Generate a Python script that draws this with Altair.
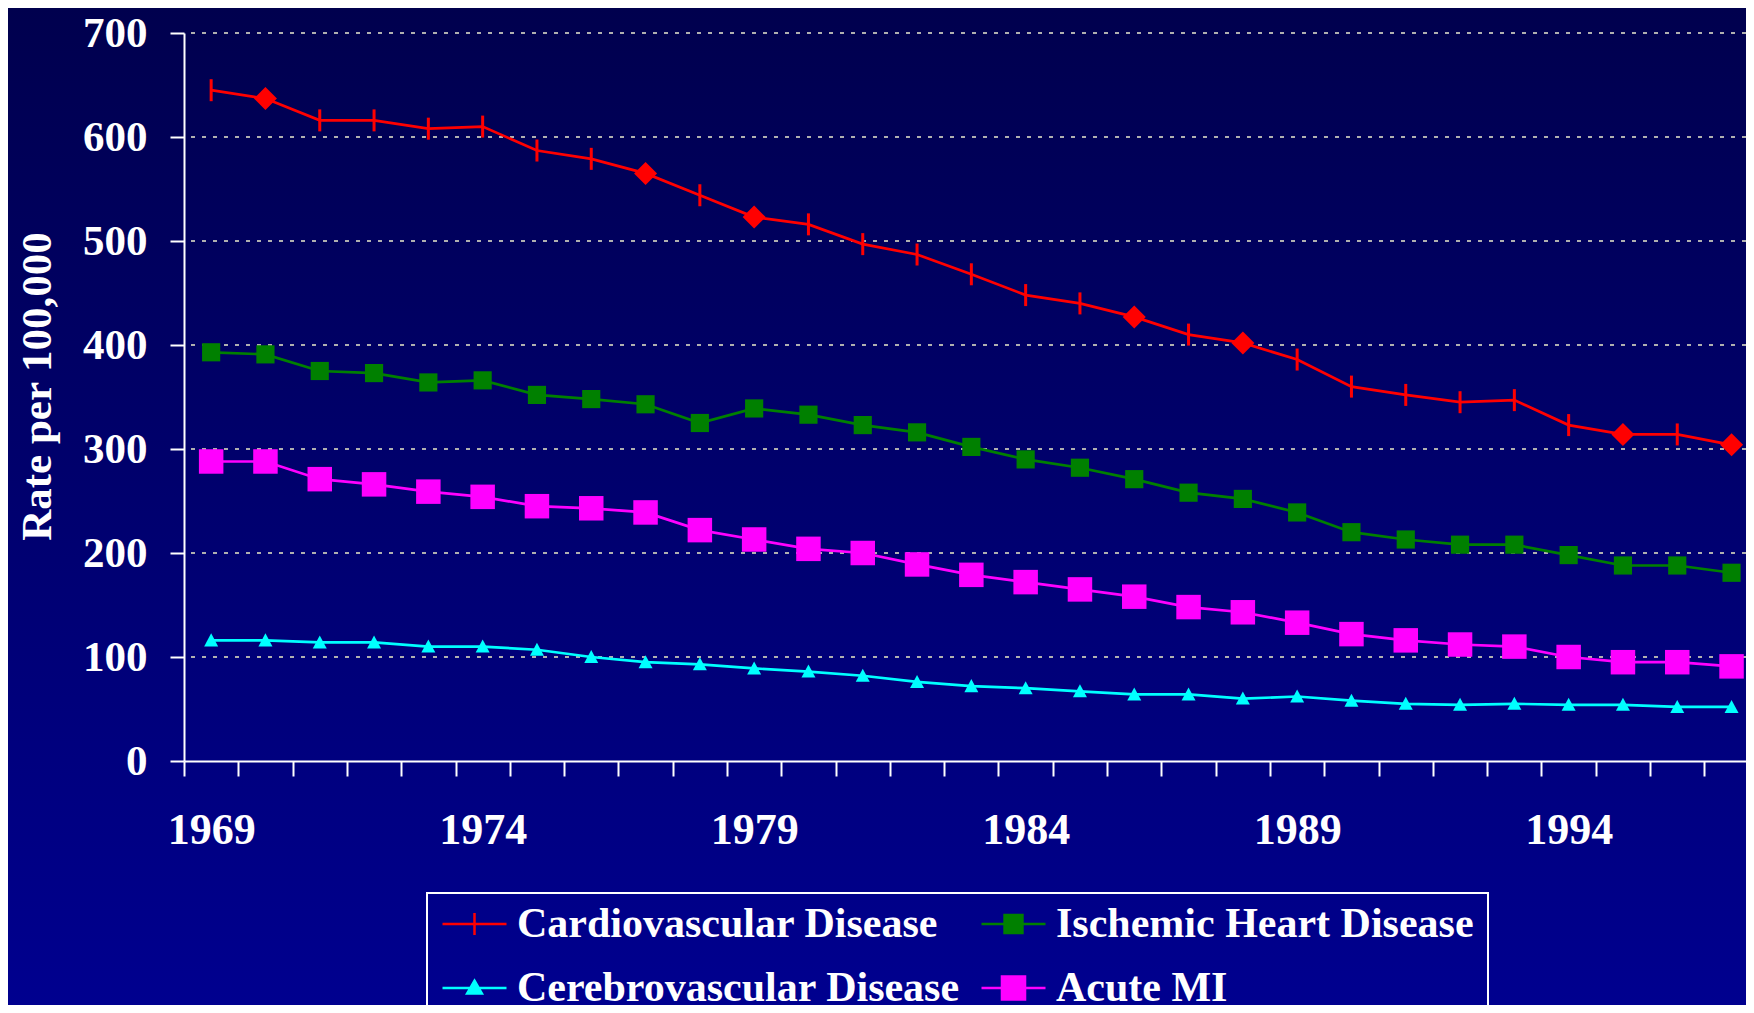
import altair as alt
import pandas as pd

# ---------------- data ----------------
years = list(range(1969, 1998))
series_names = ["Cardiovascular Disease", "Ischemic Heart Disease",
                "Cerebrovascular Disease", "Acute MI"]
cardiovascular = [645, 637, 616, 616, 608, 610, 587, 579, 565, 544, 523, 516, 497, 487, 468,
                  448, 440, 427, 410, 402, 386, 360, 352, 345, 347, 323, 314, 314, 304]
ischemic = [393, 391, 375, 373, 364, 366, 352, 348, 343, 325, 339, 333, 323, 316, 302,
            290, 282, 271, 258, 252, 239, 220, 213, 208, 208, 198, 188, 188, 181]
cerebrovascular = [116, 116, 114, 114, 110, 110, 107, 100, 95, 93, 89, 86, 82, 76, 72,
                   70, 67, 64, 64, 60, 62, 58, 55, 54, 55, 54, 54, 52, 52]
acute_mi = [288, 288, 271, 266, 259, 254, 245, 243, 239, 222, 213, 204, 200, 189, 179,
            172, 165, 158, 148, 143, 133, 122, 116, 112, 110, 100, 95, 95, 91]
diamond_years = [1970, 1977, 1979, 1986, 1988, 1995, 1997]
y_tick_values = [0, 100, 200, 300, 400, 500, 600, 700]
grid_values = [100, 200, 300, 400, 500, 600, 700]
x_label_years = [1969, 1974, 1979, 1984, 1989, 1994]

rows = []
for name, vals in zip(series_names, [cardiovascular, ischemic, cerebrovascular, acute_mi]):
    for yr, v in zip(years, vals):
        rows.append({"year": yr, "series": name, "value": v,
                     "diamond": bool(name == series_names[0] and yr in diamond_years)})
df = pd.DataFrame(rows)
grid_df = pd.DataFrame({"value": grid_values})
bg_df = pd.DataFrame({"k": [0]})

# ---------------- styling ----------------
FONT = "Liberation Serif"
W, H = 1562, 728
BAND = 54.3
RED, GREEN, CYAN, MAGENTA = "#FF0000", "#008000", "#00FFFF", "#FF00FF"
series_colors = [RED, GREEN, CYAN, MAGENTA]

legend_paths = [
    "M-1,0L1,0M0,-0.34L0,0.34",
    "M-1,0L1,0M-0.28,-0.28L0.28,-0.28L0.28,0.28L-0.28,0.28Z",
    "M-1,0L1,0M0,-0.23L0.23,0.17L-0.23,0.17Z",
    "M-1,0L1,0M-0.36,-0.36L0.36,-0.36L0.36,0.36L-0.36,0.36Z",
]

label_list = ",".join(str(v) for v in x_label_years)
x_axis = alt.Axis(
    title=None, tickBand="extent", labelOverlap=False,
    labelExpr=f"indexof([{label_list}], datum.value) >= 0 ? datum.label : ''",
    domainColor="white", domainWidth=2, tickColor="white", tickWidth=2, tickSize=15,
    labelFont=FONT, labelFontSize=44, labelFontWeight="bold", labelColor="white",
    labelPadding=32, labelAngle=0, grid=False, zindex=1,
)
y_axis = alt.Axis(
    title="Rate per 100,000", values=y_tick_values, grid=False,
    domainColor="white", domainWidth=2, tickColor="white", tickWidth=2, tickSize=14,
    labelFont=FONT, labelFontSize=43, labelFontWeight="bold", labelColor="white",
    labelPadding=23,
    titleFont=FONT, titleFontSize=43, titleFontWeight="bold", titleColor="white",
    titleAngle=270, titleX=-134, titleY=353, titleAlign="center",
    titleBaseline="alphabetic", zindex=1,
)

x_enc = alt.X("year:O", scale=alt.Scale(type="band", paddingInner=0, paddingOuter=0,
                                        range=[0, BAND * len(years)]), axis=x_axis)
y_enc = alt.Y("value:Q", scale=alt.Scale(domain=[0, 700], nice=False), axis=y_axis)
color_scale = alt.Scale(domain=series_names, range=series_colors)

legend = alt.Legend(
    title=None, orient="none", legendX=243, legendY=860, columns=2,
    direction="horizontal",
    columnPadding=20, rowPadding=22, padding=14,
    strokeColor="white", labelFont=FONT, labelFontSize=42, labelFontWeight="bold",
    labelColor="white", labelOffset=9, labelLimit=1000,
    symbolSize=4096, symbolStrokeWidth=2.5, symbolOpacity=1, clipHeight=34, zindex=2,
)

background = alt.Chart(bg_df).mark_rect(
    color=alt.LinearGradient(
        gradient="linear", x1=0, x2=0, y1=0, y2=1,
        stops=[alt.GradientStop(color="#00004E", offset=0),
               alt.GradientStop(color="#00008F", offset=1)],
    )
).encode(x=alt.value(-176), x2=alt.value(W), y=alt.value(-25), y2=alt.value(H + 244))

# legend-only layer (no data drawn): carries the combined line+marker legend
legend_layer = alt.Chart(df).transform_filter(alt.datum.value < 0).mark_point(
    filled=True, opacity=1, strokeWidth=2.5).encode(
    x=x_enc, y=y_enc,
    color=alt.Color("series:N", scale=color_scale, legend=legend),
    stroke=alt.Stroke("series:N", scale=color_scale, legend=legend),
    shape=alt.Shape("series:N", scale=alt.Scale(domain=series_names, range=legend_paths),
                    legend=legend),
)

grid = alt.Chart(grid_df).mark_rule(color="#B0B0B0", strokeWidth=2, strokeDash=[4, 7]).encode(
    y=y_enc)

lines = alt.Chart(df).mark_line(strokeWidth=2.7).encode(
    x=x_enc, y=y_enc, color=alt.Color("series:N", scale=color_scale))

ticks = alt.Chart(df).transform_filter(
    (alt.datum.series == series_names[0]) & (alt.datum.diamond == False)
).mark_point(shape="M0,-1L0,1", size=484, filled=False, color=RED, strokeWidth=3,
             opacity=1).encode(x=x_enc, y=y_enc)

diamonds = alt.Chart(df).transform_filter(
    (alt.datum.series == series_names[0]) & (alt.datum.diamond == True)
).mark_point(shape="diamond", size=529, filled=True, color=RED, opacity=1).encode(
    x=x_enc, y=y_enc)

green_sq = alt.Chart(df).transform_filter(alt.datum.series == series_names[1]).mark_point(
    shape="square", size=330, filled=True, color=GREEN, opacity=1).encode(x=x_enc, y=y_enc)

cyan_tri = alt.Chart(df).transform_filter(alt.datum.series == series_names[2]).mark_point(
    shape="M0,-1L1,0.86L-1,0.86Z", size=196, filled=True, color=CYAN, opacity=1).encode(
    x=x_enc, y=y_enc)

magenta_sq = alt.Chart(df).transform_filter(alt.datum.series == series_names[3]).mark_point(
    shape="square", size=600, filled=True, color=MAGENTA, opacity=1).encode(x=x_enc, y=y_enc)

chart = alt.layer(
    background, legend_layer, grid, lines, ticks, diamonds, green_sq, cyan_tri, magenta_sq
).properties(
    width=W, height=H,
    autosize=alt.AutoSizeParams(type="none"),
    padding={"left": 176, "top": 25, "right": 0, "bottom": 244},
    background="#00006E",
).configure_view(stroke=None).configure_legend(strokeWidth=2)

chart.save("out.html", embed_options={"renderer": "svg", "actions": False})
